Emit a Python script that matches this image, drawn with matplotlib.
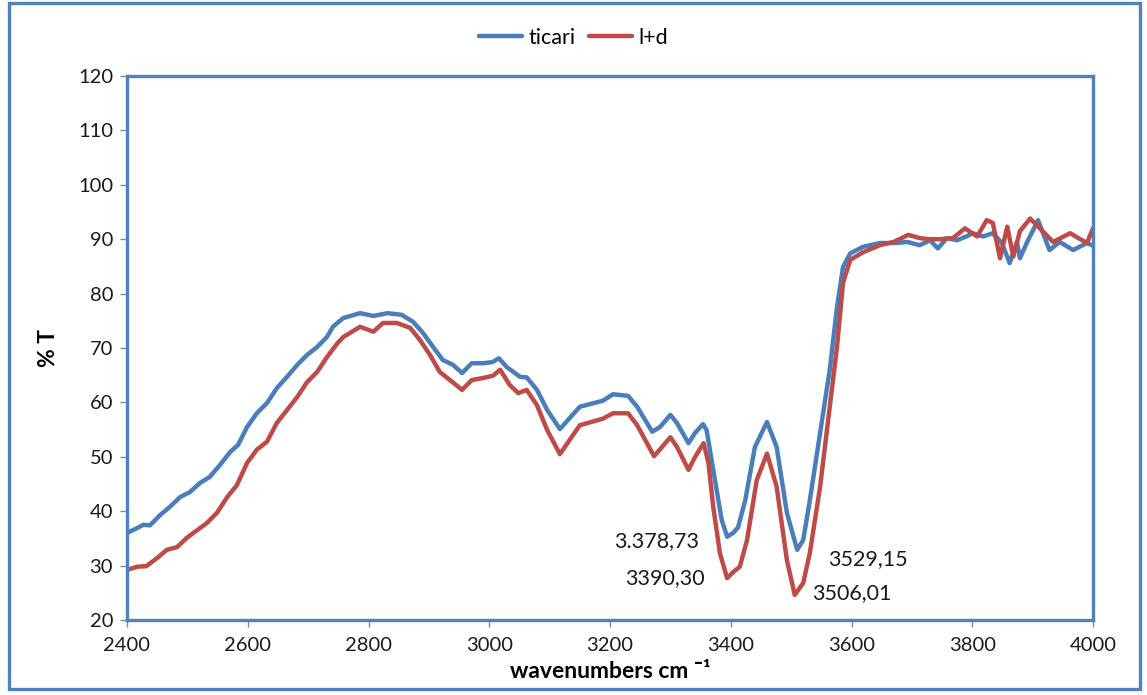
import matplotlib
matplotlib.use("Agg")
import matplotlib.pyplot as plt
from matplotlib.patches import Rectangle

# FTIR spectra: % transmittance vs wavenumber
wn_ticari = [2400, 2417, 2427, 2438, 2455, 2471, 2488, 2504, 2521, 2537, 2554, 2571,
             2584, 2599, 2615, 2632, 2648, 2665, 2682, 2698, 2715, 2731, 2741, 2758,
             2786, 2808, 2832, 2855, 2874, 2890, 2907, 2923, 2940, 2955, 2971, 2990,
             3005, 3016, 3029, 3051, 3062, 3079, 3096, 3117, 3150, 3188, 3205, 3230,
             3245, 3270, 3283, 3300, 3311, 3330, 3341, 3354, 3360, 3371, 3385, 3394,
             3404, 3412, 3424, 3440, 3460, 3476, 3493, 3510, 3520, 3531, 3548, 3564,
             3576, 3586, 3598, 3619, 3647, 3675, 3692, 3713, 3730, 3743, 3758, 3775,
             3790, 3801, 3818, 3834, 3849, 3862, 3874, 3879, 3891, 3909, 3928, 3945,
             3967, 3990, 4000]
t_ticari = [36.0, 36.9, 37.5, 37.4, 39.3, 40.8, 42.6, 43.5, 45.2, 46.3, 48.5, 50.9,
            52.2, 55.5, 58.0, 59.9, 62.6, 64.7, 66.9, 68.7, 70.2, 72.0, 73.9, 75.5,
            76.4, 75.9, 76.4, 76.1, 74.8, 72.8, 70.2, 67.8, 66.9, 65.4, 67.2, 67.2,
            67.4, 68.1, 66.5, 64.7, 64.6, 62.3, 58.6, 55.1, 59.2, 60.3, 61.5, 61.2,
            59.2, 54.6, 55.5, 57.7, 56.2, 52.5, 54.4, 56.0, 54.9, 47.6, 38.4, 35.3,
            36.0, 37.0, 42.0, 51.8, 56.4, 51.8, 39.7, 32.9, 34.7, 42.0, 54.4, 66.0,
            77.5, 84.9, 87.4, 88.6, 89.3, 89.3, 89.5, 88.9, 89.8, 88.3, 90.2, 89.8,
            90.5, 91.1, 90.5, 91.1, 89.3, 85.6, 89.5, 86.5, 89.5, 93.5, 88.0, 89.5,
            88.0, 89.3, 88.8]

wn_ld = [2400, 2417, 2432, 2450, 2466, 2483, 2499, 2516, 2532, 2549, 2566, 2582,
         2599, 2615, 2632, 2648, 2665, 2682, 2698, 2715, 2731, 2748, 2758, 2786,
         2808, 2824, 2847, 2869, 2885, 2902, 2918, 2935, 2955, 2971, 2990, 3006,
         3018, 3034, 3048, 3062, 3079, 3096, 3117, 3150, 3188, 3205, 3230, 3245,
         3273, 3300, 3311, 3330, 3341, 3355, 3363, 3371, 3382, 3394, 3404, 3415,
         3427, 3443, 3460, 3476, 3493, 3506, 3520, 3531, 3548, 3564, 3576, 3586,
         3598, 3619, 3647, 3670, 3694, 3713, 3730, 3746, 3768, 3788, 3808, 3824,
         3834, 3846, 3858, 3868, 3879, 3896, 3912, 3934, 3962, 3990, 4000]
t_ld = [29.2, 29.8, 29.9, 31.4, 32.9, 33.4, 35.1, 36.5, 37.8, 39.7, 42.6, 44.8,
        48.9, 51.3, 52.8, 56.2, 58.6, 61.0, 63.7, 65.6, 68.3, 70.8, 72.0, 73.9,
        73.0, 74.6, 74.6, 73.7, 71.5, 68.7, 65.6, 64.1, 62.3, 64.1, 64.5, 64.9,
        66.0, 63.2, 61.7, 62.3, 59.5, 54.9, 50.5, 55.8, 57.0, 58.0, 58.0, 55.8,
        50.1, 53.6, 51.8, 47.6, 50.0, 52.5, 48.9, 40.8, 32.3, 27.7, 28.8, 29.8,
        34.7, 45.7, 50.6, 44.5, 31.0, 24.6, 26.8, 32.3, 44.5, 59.2, 70.2, 82.0,
        86.2, 87.6, 88.9, 89.5, 90.8, 90.2, 90.0, 90.0, 90.2, 92.0, 90.5, 93.5,
        93.0, 86.5, 92.3, 86.8, 91.5, 93.8, 92.0, 89.5, 91.1, 89.3, 92.0]

series_names = ["ticari", "l+d"]
x_ticks = [2400, 2600, 2800, 3000, 3200, 3400, 3600, 3800, 4000]
y_ticks = [20, 30, 40, 50, 60, 70, 80, 90, 100, 110, 120]

peak_labels = ["3.378,73", "3390,30", "3529,15", "3506,01"]
peak_label_pos = [(3278, 34.5), (3291, 27.7), (3627, 31.2), (3601, 25.0)]

BLUE = "#4A7EBB"
RED = "#BE4B48"
FRAME = "#4F81BD"
FONT = ["Lato", "DejaVu Sans"]

plt.rcParams["font.family"] = FONT

fig = plt.figure(figsize=(11.47, 6.95), dpi=100)
ax = fig.add_axes([127 / 1147, 75 / 695, (1093 - 127) / 1147, (620 - 76) / 695])

l1, = ax.plot(wn_ticari, t_ticari, color=BLUE, lw=3.2, solid_joinstyle="round",
              solid_capstyle="round")
l2, = ax.plot(wn_ld, t_ld, color=RED, lw=3.2, solid_joinstyle="round",
              solid_capstyle="round")

ax.set_xlim(2400, 4000)
ax.set_ylim(20, 120)
ax.set_xticks(x_ticks)
ax.set_yticks(y_ticks)
ax.tick_params(axis="both", direction="out", length=5, width=1, color="#868686",
               labelsize=14.5, labelcolor="#1a1a1a")
ax.tick_params(axis="x", pad=7)
ax.tick_params(axis="y", pad=5)
for sp in ax.spines.values():
    sp.set_color(FRAME)
    sp.set_linewidth(2.4)

ax.set_ylabel("% T", fontsize=16.5, fontweight="bold", labelpad=14)
ax.set_xlabel("wavenumbers cm \u00af\u00b9", fontsize=16.5, fontweight="bold",
              va="center")
ax.xaxis.set_label_coords(0.5, -52 / 544)

for txt, (x, y) in zip(peak_labels, peak_label_pos):
    ax.text(x, y, txt, fontsize=15.5, color="#1a1a1a", ha="center", va="center")

fig.legend([l1, l2], series_names, loc="center", bbox_to_anchor=(0.5, 1 - 38 / 695),
           ncol=2, frameon=False, fontsize=15.5, handlelength=2.0, handletextpad=0.3,
           columnspacing=0.6)

fig.patches.append(Rectangle((9 / 1147, 6 / 695), (1140 - 9) / 1147, (692 - 6) / 695,
                             transform=fig.transFigure, fill=False, edgecolor=FRAME,
                             linewidth=2.4))

fig.savefig("out.png", dpi=100)
